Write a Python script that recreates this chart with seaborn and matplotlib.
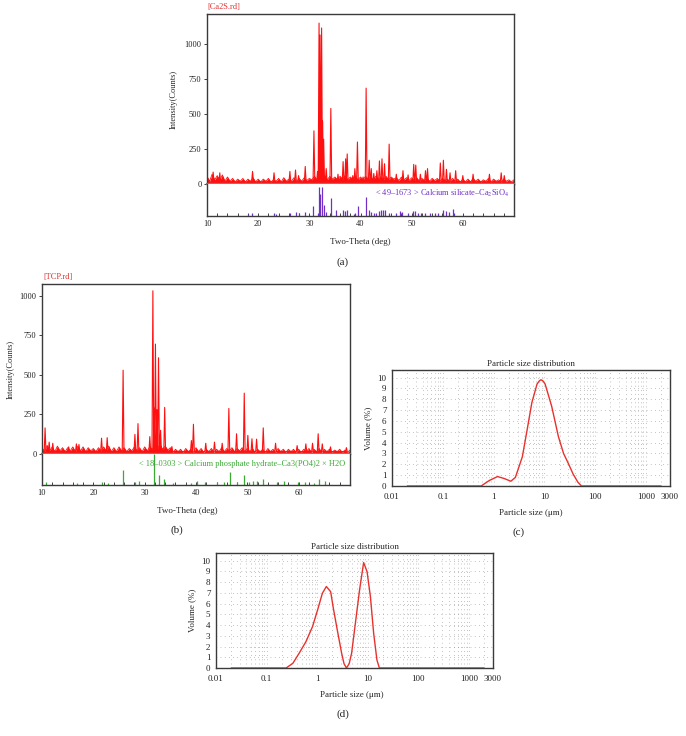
import numpy as np
import matplotlib
matplotlib.use("Agg")
import matplotlib.pyplot as plt
import seaborn as sns
from matplotlib.ticker import LogLocator, MultipleLocator, NullFormatter

# ---- XRD (a): Ca2S ----
# background noise sampled every 0.5 deg from 10 to 70 deg
noise_start, noise_step = 10.0, 0.5
ca2s_noise = [55, 20, 70, 30, 60, 25, 65, 20, 50,
              20, 40, 15, 35, 20, 40, 15, 35, 20, 45, 15, 35,
              15, 35, 20, 40, 15, 30, 20, 40, 15, 45, 20, 35, 20, 45, 15, 40, 20, 45, 25, 40,
              30, 55, 30, 60, 35, 60, 30, 55, 35, 50, 30, 55, 35, 60, 30, 50, 35, 55, 30, 50,
              30, 55, 35, 50, 30, 55, 35, 50, 30, 55, 30, 50, 35, 45, 25, 50, 30, 45, 25, 45,
              25, 45, 20, 40, 25, 45, 20, 40, 25, 40, 20, 40, 25, 35, 15, 40, 20, 35, 15, 35,
              15, 35, 15, 40, 20, 35, 15, 30, 20, 40, 15, 35, 20, 30, 15, 35, 20, 30, 15, 30]
ca2s_peak_theta = [11.2, 12.5, 18.9, 23.1, 26.2, 27.3, 27.9, 29.2,
                   30.9, 31.6, 31.9, 32.1, 32.4, 32.6, 32.8, 33.3,
                   34.2, 35.6, 36.6, 37.1, 37.4, 38.5, 38.9, 39.4, 40.5,
                   41.1, 41.7, 42.1, 42.6, 43.2, 43.7, 44.2, 44.7, 45.6,
                   47.0, 48.3, 49.3, 50.4, 50.8, 51.7, 52.7, 53.1,
                   55.6, 56.2, 56.8, 57.5, 58.6, 60.0, 62.0, 65.2, 67.5, 68.1]
ca2s_peak_counts = [85, 80, 90, 80, 90, 100, 60, 125,
                    380, 90, 1150, 1065, 1115, 450, 320, 110,
                    540, 70, 160, 180, 215, 60, 110, 300, 50,
                    685, 170, 110, 75, 95, 165, 180, 145, 285,
                    70, 95, 65, 140, 135, 70, 95, 110,
                    150, 170, 105, 80, 95, 60, 70, 70, 80, 60]
ca2s_stick_theta = [18.0, 18.8, 23.1, 23.4, 26.2, 27.3, 28.0, 29.1, 30.8, 31.6,
                    31.9, 32.1, 32.4, 32.8, 33.2, 34.3, 35.3, 36.6, 37.0, 37.4,
                    38.7, 38.9, 39.5, 41.1, 41.7, 42.1, 42.6, 43.1, 43.7, 44.1,
                    44.4, 44.7, 45.6, 47.0, 47.8, 48.1, 49.3, 50.3, 50.7, 51.2,
                    51.9, 52.7, 53.5, 54.5, 55.2, 56.2, 56.7, 57.3, 58.0, 58.3]
ca2s_stick_height = [0.07, 0.10, 0.09, 0.07, 0.10, 0.12, 0.08, 0.14, 0.32, 0.10,
                     0.92, 0.70, 0.91, 0.35, 0.12, 0.57, 0.18, 0.20, 0.15, 0.20,
                     0.05, 0.10, 0.32, 0.60, 0.18, 0.12, 0.10, 0.10, 0.15, 0.20,
                     0.18, 0.20, 0.08, 0.10, 0.15, 0.12, 0.08, 0.15, 0.15, 0.10,
                     0.08, 0.08, 0.10, 0.08, 0.10, 0.20, 0.15, 0.12, 0.22, 0.10]

# ---- XRD (b): TCP ----
tcp_noise = [40, 15, 55, 20, 45, 15, 50, 20, 40,
             15, 40, 20, 45, 15, 50, 20, 45, 15, 40, 20, 35,
             15, 40, 20, 45, 20, 50, 15, 40, 15, 45, 20, 40, 15, 35, 20, 45, 20, 40, 15, 45,
             20, 45, 30, 50, 35, 60, 30, 50, 25, 40, 10, 30, 15, 30, 10, 35, 15, 30, 10, 40,
             15, 35, 10, 30, 15, 35, 10, 30, 15, 40, 15, 35, 20, 40, 15, 35, 20, 40, 15, 35,
             15, 35, 10, 30, 15, 30, 10, 35, 15, 30, 10, 35, 15, 30, 10, 30, 15, 30, 10, 30,
             10, 30, 15, 35, 10, 30, 15, 35, 10, 30, 15, 30, 10, 25, 15, 30, 10, 25, 10, 25]
tcp_peak_theta = [10.6, 11.4, 12.1, 15.2, 16.7, 17.2, 21.6, 22.7, 25.8, 28.1, 28.7,
                  31.0, 31.6, 31.85, 32.1, 32.4, 32.7, 33.1, 33.9, 35.3, 39.1, 39.5,
                  41.9, 43.6, 45.1, 46.4, 47.9, 49.4, 50.1, 50.9, 51.8, 53.1,
                  55.5, 59.7, 61.4, 62.7, 63.8, 64.6, 66.2, 69.3]
tcp_peak_counts = [165, 75, 68, 45, 64, 60, 100, 103, 530, 124, 192,
                   110, 1032, 290, 695, 280, 609, 150, 295, 47, 85, 188,
                   68, 75, 68, 288, 128, 385, 118, 96, 94, 165,
                   68, 53, 64, 68, 128, 64, 45, 40]
tcp_stick_theta = [10.8, 16.8, 21.7, 22.9, 25.8, 28.1, 28.9, 31.8, 32.8, 33.8,
                   35.5, 39.1, 40.1, 41.7, 44.0, 45.4, 46.7, 48.0, 49.4, 50.3,
                   51.2, 51.9, 53.1, 55.8, 57.1, 59.9, 61.2, 63.0, 64.0, 65.1]
tcp_stick_height = [0.11, 0.08, 0.11, 0.05, 0.50, 0.11, 0.13, 1.00, 0.32, 0.18,
                    0.07, 0.05, 0.14, 0.11, 0.10, 0.10, 0.43, 0.11, 0.32, 0.11,
                    0.12, 0.13, 0.19, 0.10, 0.12, 0.10, 0.10, 0.08, 0.19, 0.12]

# ---- particle size distributions ----
psd_c_size = [0.02, 0.57, 0.82, 1.2, 1.6, 2.2, 2.7, 3.7, 4.6, 5.7, 7.2, 8.0, 8.6,
              9.4, 10.4, 14, 19, 24, 30, 37, 46, 54, 2000]
psd_c_volume = [0, 0, 0.5, 0.87, 0.7, 0.44, 0.8, 2.7, 5.2, 7.7, 9.4, 9.7, 9.8,
                9.7, 9.4, 7.35, 4.55, 3.0, 2.05, 1.1, 0.35, 0, 0]
psd_d_size = [0.02, 0.243, 0.33, 0.44, 0.6, 0.81, 1.02, 1.27, 1.52, 1.85, 2.09, 2.5,
              3.05, 3.4, 3.8, 4.3, 4.8, 5.7, 6.9, 8.3, 9.7, 11.3, 13.1, 15.2, 17, 2000]
psd_d_volume = [0, 0, 0.43, 1.37, 2.45, 3.85, 5.4, 6.96, 7.58, 7.1, 5.56, 3.54,
                1.37, 0.4, 0, 0.4, 1.37, 4.16, 7.27, 9.81, 8.97, 6.65, 3.23, 0.75, 0, 0]
psd_ticks = [0.01, 0.1, 1, 10, 100, 1000, 3000]
psd_tick_labels = ['0.01', '0.1', '1', '10', '100', '1000', '3000']

RED = '#ff1010'
PSD_RED = '#e8312d'
PURPLE = '#7030c8'
GREEN = '#3aaa35'
FRAME = '#3a3a3a'
PEAK_HW = 0.17
FOOT = 15

sns.set_theme(style='white')
plt.rcParams['font.family'] = ['Liberation Serif', 'DejaVu Serif']
plt.rcParams['mathtext.fontset'] = 'stix'

W, H = 686, 736
fig = plt.figure(figsize=(W / 100, H / 100), dpi=100)
fig.patch.set_facecolor('white')


def rect(left, top, right, bottom):
    return [left / W, 1 - bottom / H, (right - left) / W, (bottom - top) / H]


def ftext(x, y, s, **kw):
    fig.text(x / W, 1 - y / H, s, ha='center', va='center', **kw)


def draw_xrd(main_r, ref_r, noise, pk_t, pk_c, st_t, st_h, st_color, ymax, ref_label, label_y):
    ax = fig.add_axes(main_r)
    rx = fig.add_axes(ref_r)
    theta = noise_start + noise_step * np.arange(len(noise))
    ax.fill_between(theta, 0, noise, color=RED, lw=0)
    sns.lineplot(x=theta, y=noise, ax=ax, color=RED, lw=0.6, estimator=None, sort=False)
    px, py = [], []
    for t, c in zip(pk_t, pk_c):
        px += [t - PEAK_HW, t, t + PEAK_HW]
        py += [FOOT, c, FOOT]
    sns.lineplot(x=px, y=py, ax=ax, color=RED, lw=0.8, estimator=None, sort=False)
    ax.set_xlim(10, 70)
    ax.set_ylim(0, ymax)
    ax.set_yticks([0, 250, 500, 750, 1000])
    ax.set_xticks([])
    ax.tick_params(axis='y', left=True, direction='out', length=2, width=0.6,
                   labelsize=6, pad=2, colors='#222222')
    ax.set_xlabel('')
    ax.set_ylabel('')
    for s in ['left', 'top', 'right']:
        ax.spines[s].set_color(FRAME)
        ax.spines[s].set_linewidth(1.0)
    ax.spines['bottom'].set_color('#808080')
    ax.spines['bottom'].set_linewidth(1.6)

    rx.vlines(st_t, 0, st_h, color=st_color, lw=0.9)
    rx.set_xlim(10, 70)
    rx.set_ylim(0, 1)
    rx.set_yticks([])
    rx.xaxis.set_major_locator(MultipleLocator(10))
    rx.xaxis.set_minor_locator(MultipleLocator(2))
    rx.set_xticks([10, 20, 30, 40, 50, 60])
    rx.tick_params(axis='x', which='both', bottom=True, direction='in', length=2,
                   width=0.6, labelsize=6, pad=3, colors='#222222')
    for s in ['left', 'bottom', 'right']:
        rx.spines[s].set_color(FRAME)
        rx.spines[s].set_linewidth(1.0)
    rx.spines['top'].set_visible(False)
    rx.text(0.985, label_y, ref_label, transform=rx.transAxes, ha='right', va='center',
            fontsize=6, color=st_color)
    return ax


def draw_psd(r, size, volume):
    ax = fig.add_axes(r)
    ax.set_xscale('log')
    ax.grid(which='both', axis='x', color='#8a8a8a', lw=0.5, ls=(0, (1, 5)))
    ax.grid(which='major', axis='y', color='#8a8a8a', lw=0.5, ls=(0, (1, 5)))
    sns.lineplot(x=size, y=volume, ax=ax, color=PSD_RED, lw=1.0, estimator=None, sort=False)
    ax.set_xlim(0.01, 3000)
    ax.set_ylim(0, 10.7)
    ax.set_xticks(psd_ticks)
    ax.set_xticklabels(psd_tick_labels)
    ax.xaxis.set_minor_locator(LogLocator(base=10, subs=range(2, 10)))
    ax.xaxis.set_minor_formatter(NullFormatter())
    ax.set_yticks(range(0, 11))
    ax.tick_params(axis='both', which='both', length=0, labelsize=6.5, colors='#222222')
    ax.tick_params(axis='x', pad=5)
    ax.tick_params(axis='y', pad=4)
    ax.set_xlabel('')
    ax.set_ylabel('')
    for s in ax.spines.values():
        s.set_color(FRAME)
        s.set_linewidth(1.0)
    ax.set_title('Particle size distribution', fontsize=6.5, pad=3)
    return ax


# (a)
draw_xrd(rect(207, 14, 514, 184), rect(207, 184, 514, 216), ca2s_noise,
         ca2s_peak_theta, ca2s_peak_counts, ca2s_stick_theta, ca2s_stick_height,
         PURPLE, 1215, '< 49–1673 > Calcium silicate–Ca$_2$SiO$_4$', 0.72)
ftext(224, 7, '[Ca2S.rd]', fontsize=6, color='#e03030')
ftext(174, 99, 'Intensity(Counts)', fontsize=6, rotation=90)
ftext(360, 242, 'Two-Theta (deg)', fontsize=6.5)
ftext(343, 262, '(a)', fontsize=8)

# (b)
draw_xrd(rect(42, 284, 350, 454), rect(42, 454, 350, 485), tcp_noise,
         tcp_peak_theta, tcp_peak_counts, tcp_stick_theta, tcp_stick_height,
         GREEN, 1075, '< 18–0303 > Calcium phosphate hydrate–Ca3(PO4)2 × H2O', 0.68)
ftext(58, 277, '[TCP.rd]', fontsize=6, color='#e03030')
ftext(11, 369, 'Intensity(Counts)', fontsize=6, rotation=90)
ftext(187, 511, 'Two-Theta (deg)', fontsize=6.5)
ftext(177, 530, '(b)', fontsize=8)

# (c)
draw_psd(rect(392, 370, 670, 486), psd_c_size, psd_c_volume)
ftext(368, 428, 'Volume (%)', fontsize=6.5, rotation=90)
ftext(531, 513, 'Particle size (μm)', fontsize=6.5)
ftext(519, 532, '(c)', fontsize=8)

# (d)
draw_psd(rect(216, 553, 493, 668), psd_d_size, psd_d_volume)
ftext(192, 610, 'Volume (%)', fontsize=6.5, rotation=90)
ftext(352, 695, 'Particle size (μm)', fontsize=6.5)
ftext(343, 714, '(d)', fontsize=8)

fig.savefig('out.png', dpi=100, facecolor='white')
